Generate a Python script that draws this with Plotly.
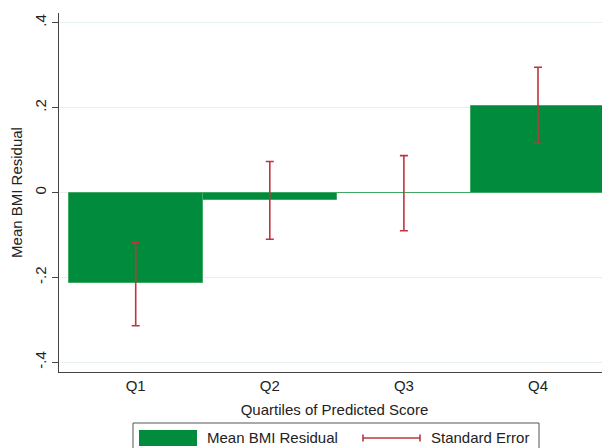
import plotly.graph_objects as go

categories = ["Q1", "Q2", "Q3", "Q4"]
mean_resid = [-0.214, -0.018, -0.001, 0.205]
se_upper = [-0.118, 0.073, 0.087, 0.295]
se_lower = [-0.314, -0.110, -0.090, 0.116]
ytick_vals = [-0.4, -0.2, 0, 0.2, 0.4]
ytick_text = ["-.4", "-.2", "0", ".2", ".4"]

# the page body has an 8px margin, so the figure is drawn 8px in and down
OFF = 8
W, H = 610 - OFF, 448 - OFF
L, R, T = 59 - OFF, 0, 13 - OFF
PLOT_BOTTOM = 372 - OFF
B = H - PLOT_BOTTOM
PW, PH = W - L - R, H - T - B

def px(x):  # page pixel x -> paper
    return (x - OFF - L) / PW

def py(y):  # page pixel y -> paper
    return (PLOT_BOTTOM - (y - OFF)) / PH

FONT = "Liberation Sans, Arial, sans-serif"
GREEN = "#008c3c"
RED = "#c0343c"
FS = 15

err_plus = [u - m for u, m in zip(se_upper, mean_resid)]
err_minus = [m - l for m, l in zip(mean_resid, se_lower)]

fig = go.Figure()
fig.add_trace(go.Bar(
    x=categories, y=mean_resid, name="Mean BMI Residual",
    marker=dict(color=GREEN, line=dict(color="#3fa862", width=1)),
    width=1.0,
    error_y=dict(type="data", symmetric=False, array=err_plus, arrayminus=err_minus,
                 color=RED, thickness=1.6, width=4),
    showlegend=False,
))

fig.update_layout(
    width=W, height=H,
    margin=dict(l=L, r=R, t=T, b=B, pad=0),
    paper_bgcolor="white", plot_bgcolor="white",
    font=dict(family=FONT, size=FS, color="#222"),
    bargap=0,
    xaxis=dict(
        range=[-0.572, 3.537], showgrid=False, zeroline=False, automargin=False,
        showline=True, linecolor="#444", linewidth=1,
        ticks="", tickfont=dict(size=FS),
        title=dict(text="Quartiles of Predicted Score", font=dict(size=FS), standoff=11),
    ),
    yaxis=dict(
        range=[-0.423, 0.423], tickvals=ytick_vals, ticktext=ytick_text, automargin=False,
        tickangle=-90, ticks="outside", ticklen=6, tickcolor="#444",
        showgrid=True, gridcolor="#e6eff2", gridwidth=1, zeroline=False,
        showline=True, linecolor="#444", linewidth=1,
        tickfont=dict(size=FS),
        title=dict(text="Mean BMI Residual", font=dict(size=FS), standoff=6),
    ),
)

# Legend box (drawn like Stata's legend at the bottom)
fig.add_shape(type="rect", xref="paper", yref="paper",
              x0=px(133), x1=px(539), y0=py(470), y1=py(423),
              line=dict(color="#555", width=1), fillcolor="white", layer="above")
fig.add_shape(type="rect", xref="paper", yref="paper",
              x0=px(139), x1=px(197), y0=py(446), y1=py(430),
              line=dict(color=GREEN, width=0), fillcolor=GREEN, layer="above")
fig.add_shape(type="line", xref="paper", yref="paper",
              x0=px(363), x1=px(420), y0=py(438), y1=py(438),
              line=dict(color=RED, width=1.6), layer="above")
for xx in (363, 420):
    fig.add_shape(type="line", xref="paper", yref="paper",
                  x0=px(xx), x1=px(xx), y0=py(434.5), y1=py(441.5),
                  line=dict(color=RED, width=1.6), layer="above")
fig.add_annotation(xref="paper", yref="paper", x=px(205), y=py(437.5),
                   xanchor="left", yanchor="middle", showarrow=False,
                   text="Mean BMI Residual", font=dict(size=FS, family=FONT, color="#222"))
fig.add_annotation(xref="paper", yref="paper", x=px(429), y=py(437.5),
                   xanchor="left", yanchor="middle", showarrow=False,
                   text="Standard Error", font=dict(size=FS, family=FONT, color="#222"))

fig.write_html("out.html")
